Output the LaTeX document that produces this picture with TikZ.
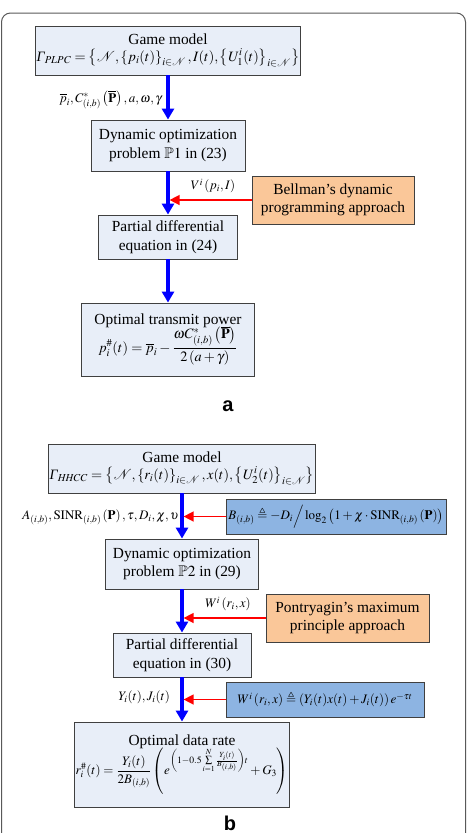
\documentclass[tikz,border=0pt]{standalone}
\usepackage{amsmath}
\usepackage{mathptmx}
\usepackage{amssymb}
\usepackage[no-math]{fontspec}
\setmainfont{Liberation Serif}
\newfontfamily\panelfont{Liberation Sans}
\usetikzlibrary{arrows.meta}
\definecolor{boxfill}{RGB}{232,238,248}
\definecolor{rulefill}{RGB}{250,199,153}
\definecolor{eqfill}{RGB}{141,180,226}
\newcommand{\eqsize}{\fontsize{13}{15}\selectfont}
\newcommand{\eqbig}{\fontsize{14.3}{16}\selectfont}
\newcommand{\itGam}{\text{\itshape Γ}}
\begin{document}
\begin{tikzpicture}[x=1pt,y=-1pt,
    font=\fontsize{15.4}{18.5}\selectfont,
    box/.style={draw=black!75,fill=boxfill,line width=0.9pt,align=center,inner sep=1pt},
    method/.style={box,fill=rulefill},
    eqbox/.style={box,fill=eqfill,font=\eqsize},
    flow/.style={blue,line width=3.3pt,-{Triangle[width=12pt,length=11pt]}},
    feed/.style={red,line width=1.4pt,-{Triangle[width=10pt,length=10pt]},shorten >=1.6pt},
    lbl/.style={inner sep=1pt,font=\fontsize{13}{15}\selectfont}]
  \useasboundingbox (0,0) rectangle (467,833);
  \clip (0,0) rectangle (467,833);
  \draw[black!65,line width=1pt,rounded corners=9pt] (1.5,13) rectangle (465.5,880);

  % panel a
  \node[box,minimum width=242pt,minimum height=49pt] (gm1) at (168,50.5)
    {Game model\\[-2pt]\eqbig$\itGam_{\mathit{PLPC}}=\left\{\mathcal{N},\left\{p_i(t)\right\}_{i\in\mathcal{N}},I(t),\left\{U_1^i(t)\right\}_{i\in\mathcal{N}}\right\}$};
  \node[box,minimum width=154pt,minimum height=51pt] (dop1) at (168,145.5)
    {Dynamic optimization\\problem $\mathbb{P}1$ in (23)};
  \node[method,minimum width=162pt,minimum height=48pt] (bell) at (333,200)
    {Bellman’s dynamic\\programming approach};
  \node[box,minimum width=139pt,minimum height=44pt] (pde1) at (168,237)
    {Partial differential\\equation in (24)};
  \node[box,minimum width=173pt,minimum height=73pt] (otp) at (168,339.5)
    {Optimal transmit power\\[-2pt]\eqbig$p_i^{\#}(t)=\overline{p}_i-\dfrac{\omega C^*_{(i,b)}\left(\overline{\mathbf{P}}\right)}{2\left(a+\gamma\right)}$};
  \node[font=\panelfont\bfseries\fontsize{20}{22}\selectfont] (pa) at (228,406) {a};

  \node[lbl,left] (in1) at (163,100) {$\overline{p}_i,C^*_{(i,b)}\left(\overline{\mathbf{P}}\right),a,\omega,\gamma$};
  \node[lbl] (vf1) at (213,186) {$V^i\left(p_i,I\right)$};

  % panel b
  \node[box,minimum width=242pt,minimum height=49pt] (gm2) at (182,468.5)
    {Game model\\[-2pt]\eqbig$\itGam_{\mathit{HHCC}}=\left\{\mathcal{N},\left\{r_i(t)\right\}_{i\in\mathcal{N}},x(t),\left\{U_2^i(t)\right\}_{i\in\mathcal{N}}\right\}$};
  \node[eqbox,minimum width=220pt,minimum height=35pt] (beq) at (336,516.5)
    {$B_{(i,b)}\triangleq-D_i\Big/\log_2\left(1+\chi\cdot\mathrm{SINR}_{(i,b)}\left(\mathbf{P}\right)\right)$};
  \node[box,minimum width=153pt,minimum height=50pt] (dop2) at (182,564)
    {Dynamic optimization\\problem $\mathbb{P}2$ in (29)};
  \node[method,minimum width=163pt,minimum height=48pt] (pont) at (347.5,618)
    {Pontryagin’s maximum\\principle approach};
  \node[box,minimum width=138pt,minimum height=44pt] (pde2) at (182,655)
    {Partial differential\\equation in (30)};
  \node[eqbox,minimum width=198pt,minimum height=35pt] (weq) at (325,699.5)
    {$W^i\left(r_i,x\right)\triangleq\left(Y_i(t)x(t)+J_i(t)\right)e^{-\tau t}$};
  \node[box,minimum width=199pt,minimum height=85pt] (odr) at (182,764.5)
    {Optimal data rate\\[-2pt]\eqsize$r_i^{\#}(t)=\dfrac{Y_i(t)}{2B_{(i,b)}}\left(e^{\left(1-0.5\sum\limits_{i=1}^{N}\frac{Y_i(t)}{B_{(i,b)}}\right)t}+G_3\right)$};
  \node[font=\panelfont\bfseries\fontsize{20}{22}\selectfont] (pb) at (230,823) {b};

  \node[lbl,left] (in2) at (180,517) {$A_{(i,b)},\mathrm{SINR}_{(i,b)}\left(\mathbf{P}\right),\tau,D_i,\chi,\upsilon$};
  \node[lbl] (vf2) at (228,604) {$W^i\left(r_i,x\right)$};
  \node[lbl,left] (yj) at (171,697) {$Y_i(t),J_i(t)$};

  % connectors
  \foreach \a/\b in {gm1/dop1,dop1/pde1,pde1/otp,gm2/dop2,dop2/pde2,pde2/odr}
    \draw[flow] (\a.south) -- (\b.north);
  \foreach \s/\t in {bell/dop1,beq/gm2,pont/dop2,weq/pde2}
    \draw[feed] (\s.west) -- (\s.west -| \t.south);
\end{tikzpicture}
\end{document}
